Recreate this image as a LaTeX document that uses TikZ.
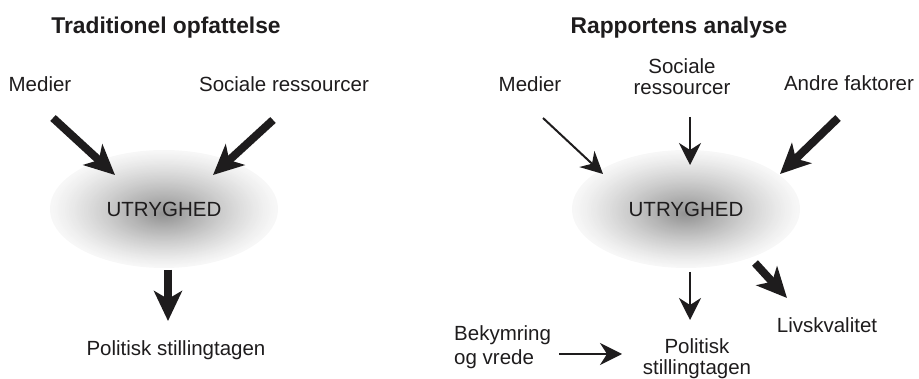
\documentclass[tikz,border=0pt]{standalone}
\usepackage{fontspec}
\setmainfont{Liberation Sans}
\usepackage{tikz}
\usetikzlibrary{positioning}
\usetikzlibrary{arrows.meta}
\usetikzlibrary{shapes.geometric}

\definecolor{ink}{HTML}{1E1C1D}

\tikzset{
  lbl/.style={text=ink, inner sep=0pt, font=\fontsize{20.5}{21}\selectfont},
  head/.style={text=ink, inner sep=0pt, font=\fontsize{22.8}{24}\selectfont\bfseries},
  blob/.style={ellipse, minimum width=228pt, minimum height=118pt,
    inner sep=0pt, text=ink, font=\fontsize{20.5}{21}\selectfont},
  fat/.style={draw=ink, line width=8pt, -{Stealth[length=30pt, width=28pt, inset=8pt]}},
  slim/.style={draw=ink, line width=2pt, -{Stealth[length=22pt, width=22pt, inset=7pt]}},
}

\begin{document}
\begin{tikzpicture}[x=1pt, y=-1pt]
    \useasboundingbox (0,0) rectangle (919,379);

    % Grey haze behind the two UTRYGHED nodes
    \foreach \cx in {164,686} {
      \foreach \k in {0,...,59} {
        \pgfmathsetmacro\r{1-\k/60}
        \pgfmathsetmacro\c{3+40*(1-\r)^1.2}
        \fill[black!\c] (\cx,{209+5*(1-\r)}) ellipse [x radius={114*\r}, y radius={59*\r}];
      }
    }

    % Define nodes
    \node[head, anchor=base]  (trad)  at (166,34)  {Traditionel opfattelse};
    \node[lbl, anchor=base]   (med1)  at (40,92)   {Medier};
    \node[lbl, anchor=base]   (soc1)  at (284,92)  {Sociale ressourcer};
    \node[blob]               (utr1)  at (164,209) {UTRYGHED};
    \node[lbl, anchor=base]   (pol1)  at (176,356) {Politisk stillingtagen};

    \node[head, anchor=base]  (rapp)  at (679,34)  {Rapportens analyse};
    \node[lbl, anchor=base]   (med2)  at (530,92)  {Medier};
    \node[lbl, align=center]  (soc2)  at (682,77)  {Sociale\\ressourcer};
    \node[lbl, anchor=base]   (andre) at (849,91)  {Andre faktorer};
    \node[blob]               (utr2)  at (686,209) {UTRYGHED};
    \node[lbl, align=center]  (pol2)  at (697,359) {Politisk\\stillingtagen};
    \node[lbl, anchor=base]   (livs)  at (827,333) {Livskvalitet};
    \node[lbl, align=left, anchor=north west] (bek) at (454,325) {Bekymring\\[3pt]og vrede};

    % Arrow ends
    \coordinate (a1) at (53,118);   \coordinate (b1) at (115,175);
    \coordinate (a2) at (273,120);  \coordinate (b2) at (213,175);
    \coordinate (a3) at (168,270);  \coordinate (b3) at (168,321);
    \coordinate (a4) at (543,118);  \coordinate (b4) at (603,174);
    \coordinate (a5) at (690,117);  \coordinate (b5) at (690,165);
    \coordinate (a6) at (838,118);  \coordinate (b6) at (780,174);
    \coordinate (a7) at (690,272);  \coordinate (b7) at (690,320);
    \coordinate (a8) at (755,263);  \coordinate (b8) at (787,298);
    \coordinate (a9) at (559,354);  \coordinate (b9) at (622,354);

    % Connect the nodes
    \draw[fat]  (a1) -- (b1); % medier
    \draw[fat]  (a2) -- (b2); % sociale ressourcer
    \draw[fat]  (a3) -- (b3); % politisk
    \draw[slim] (a4) -- (b4); %
    \draw[slim] (a5) -- (b5); %
    \draw[fat]  (a6) -- (b6); % andre faktorer
    \draw[slim] (a7) -- (b7); %
    \draw[fat]  (a8) -- (b8); % livskvalitet
    \draw[slim] (a9) -- (b9); % bekymring
\end{tikzpicture}
\end{document}
